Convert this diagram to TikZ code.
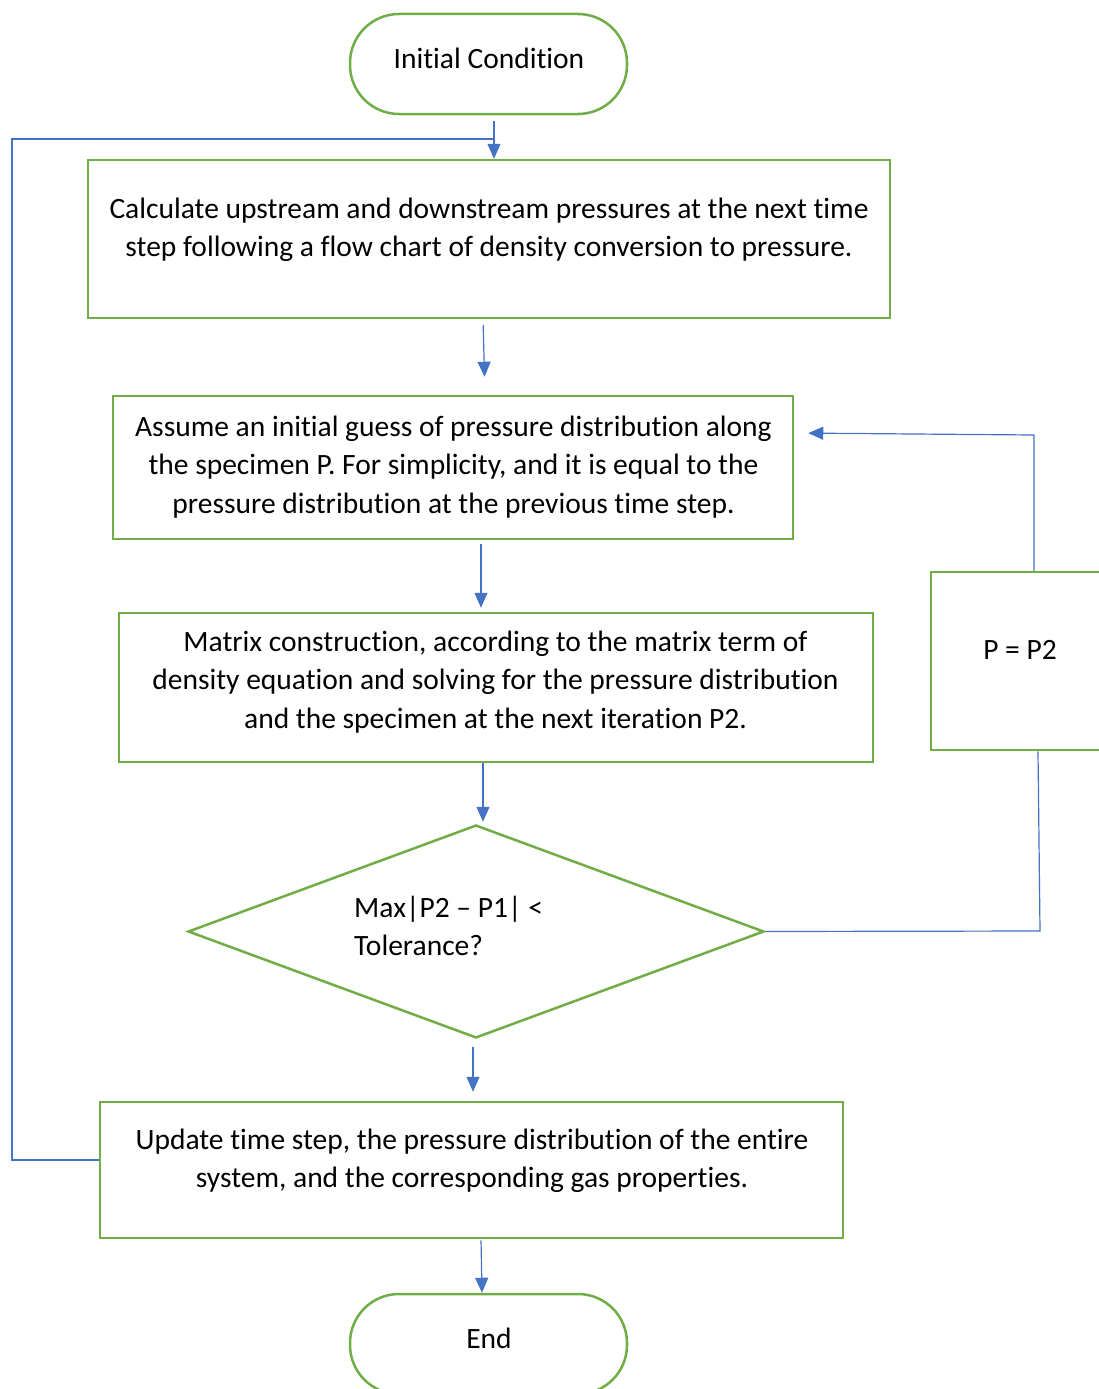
\documentclass[tikz,border=0pt]{standalone}
\usepackage{fontspec}
\setmainfont{Carlito}[RawFeature={-liga;-clig;-dlig}]
\usetikzlibrary{arrows.meta,shapes.geometric}
\definecolor{boxgreen}{HTML}{70AD47}
\definecolor{linkblue}{HTML}{4472C4}
\newcommand\txtlines[2][c]{\begin{tabular}[t]{@{}#1@{}}#2\end{tabular}}
\begin{document}
\begin{tikzpicture}[x=1pt,y=-1pt,
  greenbox/.style={draw=boxgreen, line width=2.5pt, rectangle, inner sep=0pt},
  term/.style={greenbox, rounded corners=49pt, minimum width=277pt, minimum height=100pt},
  txt/.style={font=\fontsize{29.5pt}{38.5pt}\selectfont, inner sep=0pt, anchor=base},
  conn/.style={draw=linkblue, line width=1.2pt},
  arr/.style={conn, -{Triangle[length=15pt,width=13pt]}}]
\useasboundingbox (0,0) rectangle (1098,1389);

% shapes
\node[term] (init) at (488.5,64) {};
\node[greenbox, minimum width=802pt, minimum height=158pt] (box1) at (489,239) {};
\node[greenbox, minimum width=680pt, minimum height=143pt] (box2) at (453,467.5) {};
\node[greenbox, minimum width=754pt, minimum height=149pt] (box3) at (496,687.5) {};
\node[diamond, draw=boxgreen, line width=2.5pt, inner sep=0pt, minimum width=576pt, minimum height=213pt] (dia) at (476,931.5) {};
\node[greenbox, minimum width=178pt, minimum height=178pt] (pbox) at (1020,661) {};
\node[greenbox, minimum width=743pt, minimum height=136pt] (box6) at (471.5,1170) {};
\node[term] (fin) at (488.5,1344) {};

% texts
\node[txt] (tinit) at (489,68) {Initial Condition};
\node[txt] (t1) at (489,218) {\txtlines{Calculate upstream and downstream pressures at the next time\\step following a flow chart of density conversion to pressure.}};
\node[txt] (t2) at (453.5,436) {\txtlines{Assume an initial guess of pressure distribution along\\the specimen P. For simplicity, and it is equal to the\\pressure distribution at the previous time step.}};
\node[txt] (t3) at (495.5,651) {\txtlines{Matrix construction, according to the matrix term of\\density equation and solving for the pressure distribution\\and the specimen at the next iteration P2.}};
\node[txt, anchor=base west] (t4) at (354,917) {\txtlines[l]{Max|P2 – P1| <\\Tolerance?}};
\node[txt] (t5) at (1020,659) {P = P2};
\node[txt] (t6) at (472,1149) {\txtlines{Update time step, the pressure distribution of the entire\\system, and the corresponding gas properties.}};
\node[txt] (tend) at (489,1348) {End};

% helper points
\coordinate (lpA) at (12,139);
\coordinate (lpB) at (494,139);
\coordinate (rrA) at (1040,931);
\coordinate (rrB) at (1034,435);

% connectors
\draw[arr, shorten <=6pt] ([xshift=5.5pt]init.south) -- ([xshift=5pt]box1.north);
\draw[arr, shorten <=6pt, shorten >=18pt] ([xshift=-6pt]box1.south) -- ([xshift=32pt]box2.north);
\draw[arr, shorten <=4pt, shorten >=4pt] ([xshift=28pt]box2.south) -- ([xshift=-15pt]box3.north);
\draw[arr, shorten >=2pt] ([xshift=-13pt]box3.south) -- ([xshift=7pt]dia.north);
\draw[arr, shorten <=8pt, shorten >=9pt] ([xshift=-3pt]dia.south) -- ([xshift=1.5pt]box6.north);
\draw[arr, shorten <=1pt] ([xshift=9.5pt]box6.south) -- ([xshift=-6.5pt]fin.north);
\draw[conn] ([yshift=10pt]box6.west) -| (lpA) -- (lpB);
\draw[conn] (dia.east) -- (rrA) -- ([xshift=18pt]pbox.south);
\draw[arr, shorten >=14pt] ([xshift=14pt]pbox.north) -- (rrB) -- ([yshift=34.5pt]box2.east);
\end{tikzpicture}
\end{document}
